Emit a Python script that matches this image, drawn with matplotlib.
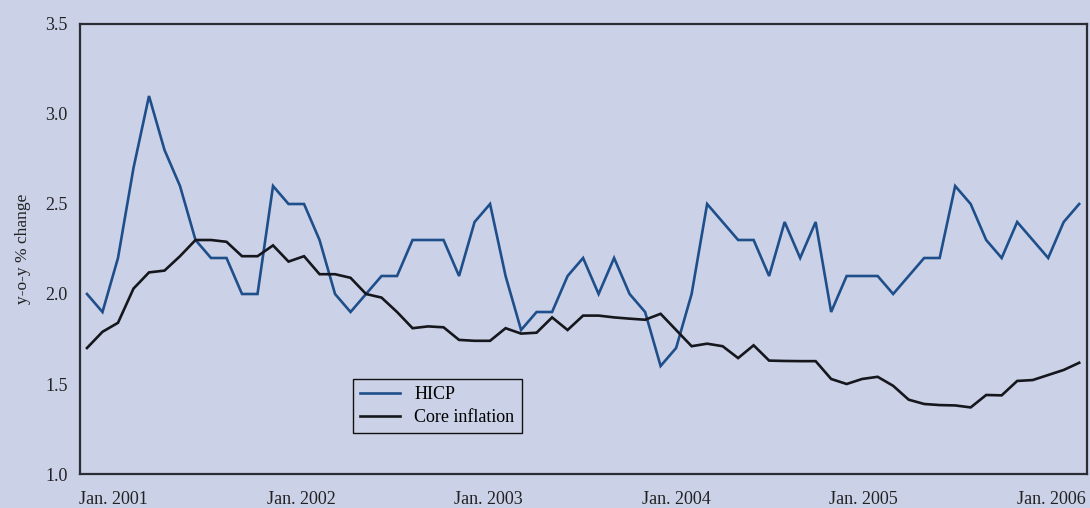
import matplotlib
matplotlib.use("Agg")
import matplotlib.pyplot as plt
import numpy as np

# monthly data, Jan. 2001 - May 2006 (y-o-y % change)
hicp = [2.0, 1.9, 2.2, 2.7, 3.1, 2.8, 2.6, 2.3, 2.2, 2.2, 2.0, 2.0,
        2.6, 2.5, 2.5, 2.3, 2.0, 1.9, 2.0, 2.1, 2.1, 2.3, 2.3, 2.3,
        2.1, 2.4, 2.5, 2.1, 1.8, 1.9, 1.9, 2.1, 2.2, 2.0, 2.2, 2.0,
        1.9, 1.6, 1.7, 2.0, 2.5, 2.4, 2.3, 2.3, 2.1, 2.4, 2.2, 2.4,
        1.9, 2.1, 2.1, 2.1, 2.0, 2.1, 2.2, 2.2, 2.6, 2.5, 2.3, 2.2,
        2.4, 2.3, 2.2, 2.4, 2.5]
core = [1.70, 1.79, 1.84, 2.03, 2.12, 2.13, 2.21, 2.30, 2.30, 2.29, 2.21, 2.21,
        2.27, 2.18, 2.21, 2.11, 2.11, 2.09, 2.00, 1.98, 1.90, 1.81, 1.82, 1.815,
        1.745, 1.74, 1.74, 1.81, 1.78, 1.785, 1.87, 1.80, 1.88, 1.88, 1.87, 1.863,
        1.857, 1.89, 1.80, 1.71, 1.724, 1.71, 1.644, 1.715, 1.63, 1.628, 1.627, 1.627,
        1.528, 1.50, 1.528, 1.54, 1.49, 1.413, 1.389, 1.383, 1.381, 1.37, 1.439, 1.437,
        1.517, 1.522, 1.55, 1.578, 1.618]
year_labels = ['Jan. 2001', 'Jan. 2002', 'Jan. 2003', 'Jan. 2004', 'Jan. 2005', 'Jan. 2006']
y_ticks = [1.0, 1.5, 2.0, 2.5, 3.0, 3.5]

bg = '#cbd2e8'
plt.rcParams['font.family'] = ['Liberation Serif', 'DejaVu Serif']

fig = plt.figure(figsize=(10.9, 5.08), dpi=100, facecolor=bg)
ax = fig.add_axes([0.0734, 0.0669, 0.9238, 0.8859], facecolor=bg)

months = np.arange(len(hicp))
ax.plot(months, hicp, color='#1f4f8a', lw=1.9, label='HICP', solid_joinstyle='miter')
ax.plot(months, core, color='#15171c', lw=1.9, label='Core inflation', solid_joinstyle='miter')

ax.set_xlim(-0.45, 64.5)
ax.set_ylim(1.0, 3.5)
ax.set_yticks(y_ticks)
ax.set_yticklabels(['%.1f' % v for v in y_ticks])
ax.set_xticks([1.7 + 12.1 * k for k in range(len(year_labels))])
ax.set_xticklabels(year_labels)
ax.tick_params(axis='both', length=0, labelsize=13, colors='#222222')
ax.tick_params(axis='y', pad=9)
ax.tick_params(axis='x', pad=12)
for s in ax.spines.values():
    s.set_color('#2a2d33')
    s.set_linewidth(1.6)

ax.set_ylabel('y-o-y % change', fontsize=12.5, color='#222222', labelpad=10)

leg = ax.legend(loc='lower left', bbox_to_anchor=(0.271, 0.091), fontsize=13,
                frameon=True, fancybox=False, facecolor=bg, edgecolor='#111111',
                handlelength=2.2, handletextpad=0.8, borderpad=0.4, labelspacing=0.3,
                borderaxespad=0, framealpha=1)
leg.get_frame().set_linewidth(1.0)

fig.savefig('out.png', dpi=100, facecolor=bg)
